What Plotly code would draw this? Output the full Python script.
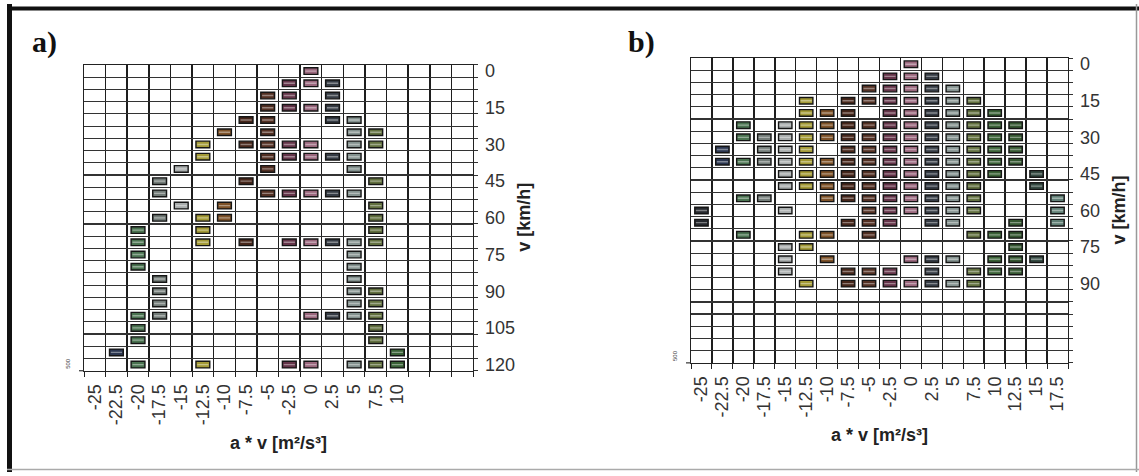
import plotly.graph_objects as go

# ---------------- data ----------------
X_CATS = [-25, -22.5, -20, -17.5, -15, -12.5, -10, -7.5, -5, -2.5, 0, 2.5, 5, 7.5, 10, 12.5, 15, 17.5]
A_XLABELS = ["-25", "-22.5", "-20", "-17.5", "-15", "-12.5", "-10", "-7.5", "-5", "-2.5", "0", "2.5", "5", "7.5", "10", "", "", ""]
B_XLABELS = ["-25", "-22.5", "-20", "-17.5", "-15", "-12.5", "-10", "-7.5", "-5", "-2.5", "0", "2.5", "5", "7.5", "10", "12.5", "15", "17.5"]
V_ROWS = [0, 5, 10, 15, 20, 25, 30, 35, 40, 45, 50, 55, 60, 65, 70, 75, 80, 85, 90, 95, 100, 105, 110, 115, 120]
A_YTICKS = [0, 15, 30, 45, 60, 75, 90, 105, 120]
B_YTICKS = [0, 15, 30, 45, 60, 75, 90]

# occupied a*v classes per speed row (panel a)
A_CELLS = [
    [0],
    [-2.5, 0, 2.5],
    [-5, -2.5, 2.5],
    [-5, -2.5, 0, 2.5],
    [-7.5, -5, 2.5, 5],
    [-10, -5, 5, 7.5],
    [-12.5, -7.5, -5, -2.5, 0, 5, 7.5],
    [-12.5, -5, -2.5, 0, 2.5, 5],
    [-15, -5, 5],
    [-17.5, -7.5, 7.5],
    [-17.5, -5, -2.5, 0, 2.5, 5],
    [-15, -10, 7.5],
    [-17.5, -12.5, -10, 7.5],
    [-20, -12.5, 7.5],
    [-20, -12.5, -7.5, -2.5, 0, 2.5, 5, 7.5],
    [-20, 5],
    [-20, 5],
    [-17.5, 5],
    [-17.5, 5, 7.5],
    [-17.5, 5, 7.5],
    [-20, -17.5, 0, 2.5, 5, 7.5],
    [-20, 7.5],
    [-20, 7.5],
    [-22.5, 10],
    [-20, -12.5, -2.5, 0, 5, 7.5, 10],
]

# occupied a*v classes per speed row (panel b)
B_CELLS = [
    [0],
    [-2.5, 0, 2.5],
    [-5, -2.5, 0, 2.5, 5],
    [-12.5, -7.5, -5, -2.5, 0, 2.5, 5, 7.5],
    [-12.5, -10, -7.5, -2.5, 0, 2.5, 5, 7.5, 10],
    [-20, -15, -12.5, -10, -7.5, -5, -2.5, 0, 2.5, 5, 7.5, 10, 12.5],
    [-20, -17.5, -15, -12.5, -10, -7.5, -5, -2.5, 0, 2.5, 5, 7.5, 10, 12.5],
    [-22.5, -17.5, -15, -12.5, -7.5, -5, -2.5, 0, 2.5, 5, 7.5, 10, 12.5],
    [-22.5, -20, -17.5, -15, -12.5, -10, -7.5, -5, -2.5, 0, 2.5, 5, 7.5, 10, 12.5],
    [-15, -12.5, -10, -7.5, -5, -2.5, 0, 2.5, 5, 7.5, 10, 15],
    [-15, -12.5, -10, -7.5, -5, -2.5, 0, 2.5, 5, 7.5, 15],
    [-20, -17.5, -10, -7.5, -5, -2.5, 0, 2.5, 5, 7.5, 17.5],
    [-25, -15, -5, -2.5, 0, 2.5, 5, 7.5, 17.5],
    [-25, -7.5, -5, -2.5, 2.5, 5, 12.5, 17.5],
    [-20, -12.5, -10, -5, 7.5, 10, 12.5],
    [-15, -12.5, 12.5],
    [-15, -10, 0, 2.5, 5, 10, 12.5, 15],
    [-15, -7.5, -5, -2.5, 2.5, 7.5, 10, 12.5],
    [-12.5, -7.5, -5, -2.5, 0, 2.5, 5, 7.5],
    [], [], [], [], [], [],
]

# ---------------- style ----------------
COL_COLORS = ["#26292e", "#2b3650", "#4a7350", "#737c78", "#a9adad", "#a39a36",
              "#7e5228", "#46261a", "#533023", "#643449", "#9a677d", "#363c45",
              "#84928f", "#62703f", "#3a6236", "#355731", "#354a42", "#607f75"]

W, H = 1139, 476
PANELS = [
    dict(cells=A_CELLS, xl=A_XLABELS, yt=A_YTICKS, px=(84, 473), py=(62, 373)),
    dict(cells=B_CELLS, xl=B_XLABELS, yt=B_YTICKS, px=(691, 1068), py=(55, 365)),
]


def lighten(hexc, f):
    h = hexc.lstrip("#")
    r, g, b = int(h[0:2], 16), int(h[2:4], 16), int(h[4:6], 16)
    r = int(r + (255 - r) * f)
    g = int(g + (255 - g) * f)
    b = int(b + (255 - b) * f)
    return "#%02x%02x%02x" % (r, g, b)


fig = go.Figure()
x_bounds = [X_CATS[0] - 1.25 + 2.5 * i for i in range(len(X_CATS) + 1)]
y_bounds = [V_ROWS[0] - 2.5 + 5 * i for i in range(len(V_ROWS) + 1)]
FONT = "Liberation Sans, Arial, sans-serif"

annotations = []
for k, p in enumerate(PANELS):
    xs, bases, cols, vs = [], [], [], []
    for v, row in zip(V_ROWS, p["cells"]):
        for x in row:
            xs.append(x)
            vs.append(v)
            bases.append(v - 1.35)
            cols.append(COL_COLORS[X_CATS.index(x)])
    xa = "x" if k == 0 else "x2"
    ya = "y" if k == 0 else "y2"
    fig.add_trace(go.Bar(
        x=xs, y=[2.7] * len(xs), base=bases, width=1.6,
        marker=dict(color=cols, line=dict(color="#151515", width=1.4)),
        xaxis=xa, yaxis=ya, hoverinfo="skip", showlegend=False))
    fig.add_trace(go.Scatter(
        x=xs, y=vs, mode="markers", xaxis=xa, yaxis=ya, hoverinfo="skip", showlegend=False,
        marker=dict(symbol="line-ew", size=8,
                    line=dict(color=[lighten(c, 0.4) for c in cols], width=1.4))))

    dom_x = [p["px"][0] / W, p["px"][1] / W]
    dom_y = [1 - p["py"][1] / H, 1 - p["py"][0] / H]
    axis_common = dict(showline=True, mirror=True, linecolor="#222", linewidth=1.3,
                       zeroline=False, showgrid=False, ticks="",
                       tickfont=dict(family=FONT, size=18, color="#333"))
    xkey = "xaxis" if k == 0 else "xaxis2"
    ykey = "yaxis" if k == 0 else "yaxis2"
    fig.update_layout(**{
        xkey: dict(domain=dom_x, anchor=ya, range=[x_bounds[0], x_bounds[-1]],
                   tickmode="array", tickvals=X_CATS, ticktext=p["xl"], tickangle=-90,
                   ticklabelstandoff=5,
                   minor=dict(tickmode="array", tickvals=x_bounds, showgrid=True,
                              gridcolor="#1e1e1e", gridwidth=1.5, ticks="outside",
                              ticklen=5, tickcolor="#222"),
                   **axis_common),
        ykey: dict(domain=dom_y, anchor=xa, side="right", range=[y_bounds[-1], y_bounds[0]],
                   tickmode="array", tickvals=p["yt"], ticktext=[str(t) for t in p["yt"]],
                   ticklabelstandoff=7,
                   minor=dict(tickmode="array", tickvals=y_bounds, showgrid=True,
                              gridcolor="#333", gridwidth=1.2, ticks="outside",
                              ticklen=4, tickcolor="#333"),
                   **axis_common),
    })
    cx = (p["px"][0] + p["px"][1]) / 2 / W
    cy = 1 - (p["py"][0] + p["py"][1]) / 2 / H
    annotations += [
        dict(text="<b>a * v [m²/s³]</b>", xref="paper", yref="paper", x=cx,
             y=1 - (p["py"][1] + 73) / H, showarrow=False, xanchor="center", yanchor="middle",
             font=dict(family=FONT, size=18, color="#222")),
        dict(text="<b>v [km/h]</b>", xref="paper", yref="paper",
             x=(p["px"][1] + 51) / W, y=cy, textangle=-90, showarrow=False,
             xanchor="center", yanchor="middle", font=dict(family=FONT, size=18, color="#222")),
        dict(text="500", xref="paper", yref="paper", x=(p["px"][0] - 16) / W,
             y=1 - (p["py"][1] - 7) / H, textangle=-90, showarrow=False,
             xanchor="center", yanchor="middle", font=dict(family=FONT, size=6, color="#444")),
        dict(text="<b>%s)</b>" % ("a" if k == 0 else "b"), xref="paper", yref="paper",
             x=(44 if k == 0 else 641) / W, y=1 - 39 / H, showarrow=False,
             xanchor="center", yanchor="middle",
             font=dict(family="Liberation Serif, Times New Roman, serif", size=30, color="#111")),
    ]

shapes = [
    dict(type="line", xref="paper", yref="paper", x0=9.5 / W, x1=9.5 / W, y0=0, y1=1,
         line=dict(color="#111", width=5)),
    dict(type="line", xref="paper", yref="paper", x0=7 / W, x1=1, y0=1 - 4.5 / H, y1=1 - 4.5 / H,
         line=dict(color="#111", width=4)),
    dict(type="line", xref="paper", yref="paper", x0=1136.5 / W, x1=1136.5 / W, y0=0, y1=1,
         line=dict(color="#999", width=1.5)),
    dict(type="line", xref="paper", yref="paper", x0=7 / W, x1=1, y0=1 - 473.5 / H, y1=1 - 473.5 / H,
         line=dict(color="#aaa", width=1.5)),
]
# short left tick at the bottom-left corner of each grid (beside "500")
for p in PANELS:
    shapes.append(dict(type="line", xref="paper", yref="paper",
                       x0=(p["px"][0] - 5) / W, x1=p["px"][0] / W,
                       y0=1 - p["py"][1] / H, y1=1 - p["py"][1] / H,
                       line=dict(color="#333", width=1.2)))

fig.update_layout(width=W, height=H, autosize=False, margin=dict(l=0, r=0, t=0, b=0),
                  paper_bgcolor="white", plot_bgcolor="white", barmode="overlay",
                  annotations=annotations, shapes=shapes, showlegend=False)
fig.write_html("out.html", config={"displayModeBar": False, "staticPlot": True},
               post_script="document.body.style.margin='0';document.body.style.overflow='hidden';")
